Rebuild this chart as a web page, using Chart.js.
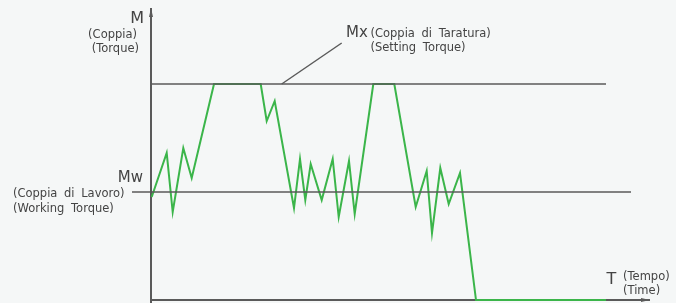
<!DOCTYPE html>
<html>
<head>
<meta charset="utf-8">
<script src="https://cdn.jsdelivr.net/npm/chart.js@4.4.1/dist/chart.umd.min.js"></script>
<style>
  html, body { margin: 0; padding: 0; background: #f5f7f7; }
  #wrap { width: 676px; height: 303px; }
</style>
</head>
<body>
<div id="wrap"><canvas id="chart"></canvas></div>
<script>
// time (x) and torque (y) of the green trace, in chart units
const timeValues = [0.7, 15.7, 21.7, 32.3, 40.7, 63, 109.7, 115.7, 123.7, 143, 149, 154.3, 159.7, 170.7, 181.7, 187.7, 198, 203.7, 222.3, 243.3, 264.7, 275.7, 281, 289.3, 297.7, 309, 325, 455];
const torqueValues = [103, 147, 88, 152, 122, 216, 216, 179, 199, 92, 141, 100, 136, 100, 141, 83, 139, 86, 216, 216, 93, 129, 67, 132, 96, 127, 0, 0];

// reference levels
const settingTorque = 216;   // Mx
const workingTorque = 108;   // Mw
const settingSpan = [0, 455];
const workingSpan = [-19, 480];
const axisTop = 292;
const axisEnd = 499;

const green = '#3bb54a';
const grey = '#5a5a5a';
const textGrey = '#444444';

const points = timeValues.map((t, i) => ({x: t, y: torqueValues[i]}));

// assi, freccia, etichette
const decorations = {
    id: 'decorations',
    beforeDatasetsDraw(chart) {
        const {ctx, scales: {x, y}} = chart;
        ctx.save();
        ctx.strokeStyle = grey;
        ctx.fillStyle = grey;
        ctx.lineWidth = 2;
        // asse Y
        ctx.beginPath();
        ctx.moveTo(x.getPixelForValue(0), y.getPixelForValue(-3));
        ctx.lineTo(x.getPixelForValue(0), y.getPixelForValue(axisTop));
        ctx.stroke();
        ctx.beginPath();
        ctx.moveTo(x.getPixelForValue(0), y.getPixelForValue(axisTop));
        ctx.lineTo(x.getPixelForValue(-2), y.getPixelForValue(axisTop - 9));
        ctx.lineTo(x.getPixelForValue(2), y.getPixelForValue(axisTop - 9));
        ctx.closePath();
        ctx.fill();
        // asse X
        ctx.beginPath();
        ctx.moveTo(x.getPixelForValue(0), y.getPixelForValue(0));
        ctx.lineTo(x.getPixelForValue(axisEnd), y.getPixelForValue(0));
        ctx.stroke();
        ctx.beginPath();
        ctx.moveTo(x.getPixelForValue(axisEnd), y.getPixelForValue(0));
        ctx.lineTo(x.getPixelForValue(axisEnd - 9), y.getPixelForValue(2));
        ctx.lineTo(x.getPixelForValue(axisEnd - 9), y.getPixelForValue(-2));
        ctx.closePath();
        ctx.fill();
        // linea di richiamo Mx
        ctx.lineWidth = 1.5;
        ctx.beginPath();
        ctx.moveTo(x.getPixelForValue(130.7), y.getPixelForValue(settingTorque));
        ctx.lineTo(x.getPixelForValue(190.7), y.getPixelForValue(257));
        ctx.stroke();
        ctx.restore();
    },
    afterDraw(chart) {
        const {ctx, scales: {x, y}} = chart;
        const put = (txt, tx, ty, size, align) => {
            ctx.font = size + 'px "DejaVu Sans"';
            ctx.textAlign = align;
            ctx.fillText(txt, x.getPixelForValue(tx), y.getPixelForValue(ty));
        };
        ctx.save();
        ctx.fillStyle = textGrey;
        ctx.textBaseline = 'middle';
        ctx.wordSpacing = '3px';
        put('M', -7, 281.5, 16, 'right');
        put('(Coppia)', -14, 264.5, 11.5, 'right');
        put('(Torque)', -12, 251, 11.5, 'right');
        put('Mx', 195, 267, 15, 'left');
        put('(Coppia di Taratura)', 219.5, 266, 11.5, 'left');
        put('(Setting Torque)', 219.5, 252, 11.5, 'left');
        put('Mw', -8, 121.5, 15, 'right');
        put('(Coppia di Lavoro)', -138, 106, 11.5, 'left');
        put('(Working Torque)', -138, 91, 11.5, 'left');
        put('T', 455.5, 20.5, 16, 'left');
        put('(Tempo)', 472, 23, 11.5, 'left');
        put('(Time)', 472, 8.5, 11.5, 'left');
        ctx.restore();
    }
};

new Chart(document.getElementById('chart'), {
    type: 'line',
    data: {
        datasets: [
            {
                data: settingSpan.map(t => ({x: t, y: settingTorque})),
                borderColor: grey,
                borderWidth: 1.5,
                pointRadius: 0
            },
            {
                data: workingSpan.map(t => ({x: t, y: workingTorque})),
                borderColor: grey,
                borderWidth: 1.5,
                pointRadius: 0
            },
            {
                data: points,
                borderColor: green,
                borderWidth: 2,
                pointRadius: 0,
                tension: 0,
                borderJoinStyle: 'miter'
            }
        ]
    },
    options: {
        responsive: true,
        maintainAspectRatio: false,
        animation: false,
        layout: {padding: 0},
        plugins: {
            legend: {display: false},
            tooltip: {enabled: false}
        },
        scales: {
            x: {type: 'linear', min: -151, max: 525, display: false},
            y: {type: 'linear', min: -3, max: 300, display: false}
        }
    },
    plugins: [decorations]
});
</script>
</body>
</html>
